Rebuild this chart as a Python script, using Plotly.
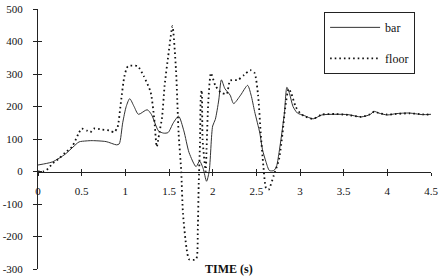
import plotly.graph_objects as go

# ---- data ----
bar_t = [0, 0.1, 0.17, 0.31, 0.4, 0.47, 0.55, 0.62, 0.78, 0.9, 0.93, 0.97, 1.01, 1.05,
         1.1, 1.15, 1.25, 1.3, 1.38, 1.44, 1.49, 1.55, 1.61, 1.67, 1.73, 1.81, 1.85,
         1.89, 1.93, 1.96, 2.0, 2.03, 2.07, 2.1, 2.14, 2.2, 2.24, 2.32, 2.4, 2.44,
         2.48, 2.54, 2.57, 2.61, 2.65, 2.7, 2.73, 2.76, 2.82, 2.85, 2.88, 2.92, 2.97,
         3.05, 3.15, 3.25, 3.4, 3.55, 3.7, 3.8, 3.85, 3.9, 4.0, 4.1, 4.25, 4.4, 4.5]
bar_v = [20, 25, 30, 53, 75, 91, 94, 95, 92, 82, 85, 150, 200, 224,
         200, 176, 190, 175, 125, 118, 120, 150, 170, 125, 58, 15, 32,
         10, -30, 0, 140, 160, 220, 282, 255, 235, 209, 235, 265, 235,
         185, 118, 68, 30, 3, 3, 15, 58, 176, 259, 240, 200, 180,
         172, 162, 174, 176, 175, 168, 175, 185, 180, 174, 178, 180, 175, 176]

floor_t = [0, 0.06, 0.1, 0.17, 0.25, 0.31, 0.39, 0.47, 0.5, 0.56, 0.6, 0.64, 0.73,
           0.82, 0.87, 0.91, 0.95, 0.99, 1.03, 1.14, 1.21, 1.29, 1.33, 1.36, 1.39,
           1.42, 1.45, 1.49, 1.54, 1.58, 1.61, 1.64, 1.66, 1.7, 1.73, 1.81, 1.83,
           1.84, 1.855, 1.865, 1.875, 1.885, 1.92, 1.93, 1.95, 1.98, 2.03, 2.09,
           2.16, 2.2, 2.29, 2.36, 2.43, 2.48, 2.52, 2.55, 2.58, 2.61, 2.64, 2.7,
           2.76, 2.8, 2.83, 2.87, 2.9, 2.95, 3.0, 3.05, 3.15, 3.25, 3.4, 3.55, 3.7,
           3.8, 3.85, 3.9, 4.0, 4.1, 4.25, 4.4, 4.5]
floor_v = [0, 0, 5, 25, 42, 58, 76, 120, 132, 126, 121, 132, 129,
           126, 121, 135, 215, 294, 324, 324, 294, 244, 165, 76, 120,
           165, 265, 353, 447, 312, 118, 0, -129, -235, -270, -270, -176,
           -41, 88, 235, 250, 97, 0, 68, 215, 303, 265, 244,
           238, 280, 282, 297, 312, 303, 235, 118, 18, -50, -56, -12,
           38, 118, 194, 255, 240, 200, 180, 170, 162, 175, 177, 174, 168,
           176, 184, 180, 175, 177, 179, 176, 175]

x_ticks = [0, 0.5, 1, 1.5, 2, 2.5, 3, 3.5, 4, 4.5]
x_labels = ["0", "0.5", "1", "1.5", "2", "2.5", "3", "3.5", "4", "4.5"]
y_ticks = [500, 400, 300, 200, 100, 0, -100, -200, -300]
y_labels = ["500", "400", "300", "200", "100", "0", "-100", "-200", "-300"]

FONT = "Liberation Serif, Times New Roman, serif"

fig = go.Figure()
fig.add_trace(go.Scatter(x=bar_t, y=bar_v, mode="lines", name="bar",
                         line=dict(color="#333333", width=1, shape="spline",
                                   smoothing=0.7), legendgroup="a"))
fig.add_trace(go.Scatter(x=floor_t, y=floor_v, mode="lines", name="floor",
                         line=dict(color="#111111", width=1.8, dash="1.6px,3px",
                                   shape="spline", smoothing=0.6),
                         legendgroup="b"))
# invisible trace on overlay axes so their tick marks render
fig.add_trace(go.Scatter(x=[0], y=[0], xaxis="x2", yaxis="y2", mode="markers",
                         marker=dict(opacity=0), showlegend=False, hoverinfo="skip"))

axis_common = dict(showgrid=False, zeroline=False, linecolor="#222", tickcolor="#222",
                   tickwidth=1, ticklabeloverflow="allow",
                   tickfont=dict(family=FONT, size=11, color="#111"))

fig.update_layout(
    width=441, height=278,
    margin=dict(l=35, r=5, t=4, b=3),
    paper_bgcolor="white", plot_bgcolor="white",
    showlegend=True,
    legend=dict(x=0.728, y=0.989, xanchor="left", yanchor="top",
                bordercolor="#222", borderwidth=1, bgcolor="white",
                font=dict(family=FONT, size=12, color="#111"),
                tracegroupgap=12, itemwidth=50),
    xaxis=dict(range=[0, 4.5], tickvals=x_ticks, ticktext=x_labels,
               anchor="free", position=0.375, showline=True,
               ticks="outside", ticklen=3, ticklabelstandoff=6, **axis_common),
    yaxis=dict(range=[-300, 500], tickvals=y_ticks, ticktext=y_labels,
               showline=True, ticks="outside", ticklen=4, ticklabelstandoff=8,
               **axis_common),
    xaxis2=dict(range=[0, 4.5], tickvals=x_ticks, overlaying="x", anchor="free",
                position=0.375, showline=False, ticks="inside", ticklen=3,
                showticklabels=False, showgrid=False, zeroline=False,
                tickcolor="#222"),
    yaxis2=dict(range=[-300, 500], tickvals=y_ticks, overlaying="y", anchor="x",
                showline=False, ticks="inside", ticklen=4, showticklabels=False,
                showgrid=False, zeroline=False, tickcolor="#222"),
    annotations=[dict(text="<b>TIME (s)</b>", xref="paper", yref="paper",
                      x=0.485, y=-0.035, xanchor="center", yanchor="bottom",
                      showarrow=False,
                      font=dict(family=FONT, size=12, color="#111"))],
)

fig.write_html("out.html")
